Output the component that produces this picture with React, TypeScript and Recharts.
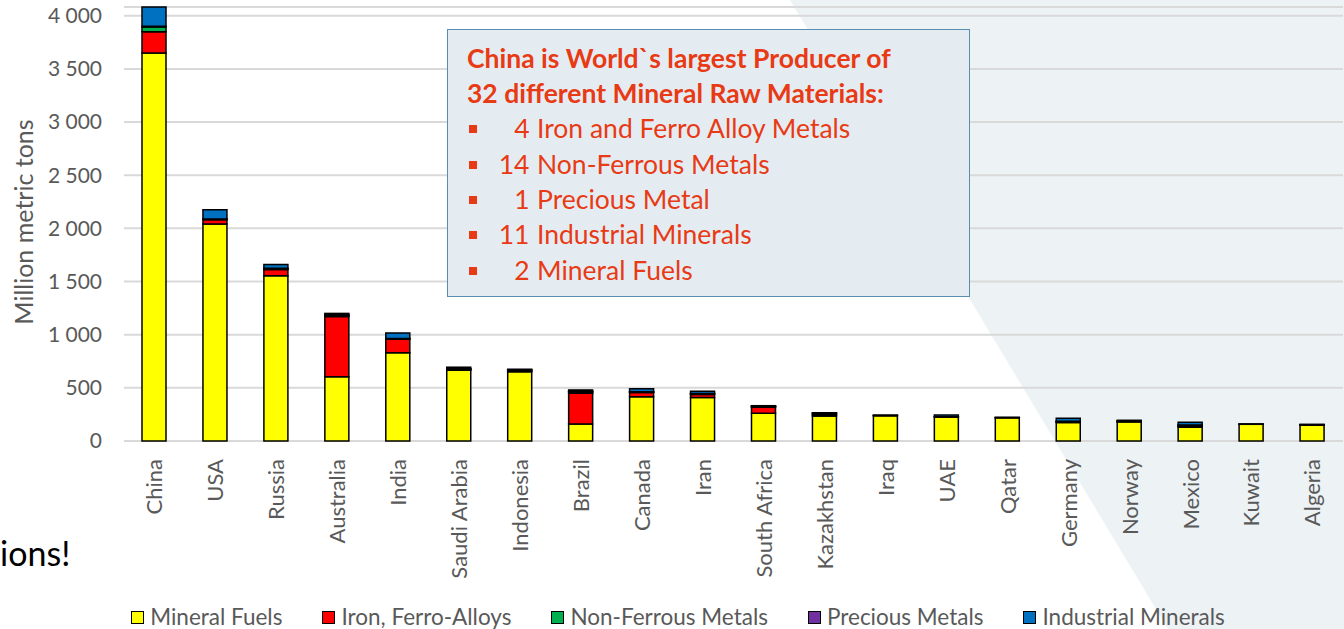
import { BarChart, Bar, XAxis, YAxis, CartesianGrid } from 'recharts';

const countries = ['China', 'USA', 'Russia', 'Australia', 'India', 'Saudi Arabia', 'Indonesia', 'Brazil', 'Canada', 'Iran', 'South Africa', 'Kazakhstan', 'Iraq', 'UAE', 'Qatar', 'Germany', 'Norway', 'Mexico', 'Kuwait', 'Algeria'];
const mineralFuels = [3650, 2040, 1555, 605, 830, 666, 652, 160, 416, 410, 260, 235, 238, 226, 218, 174, 180, 130, 157, 150];
const ironFerroAlloys = [200, 42, 58, 565, 128, 2, 3, 289, 40, 28, 57, 10, 0, 0, 0, 2, 2, 8, 0, 1];
const nonFerrousMetals = [45, 5, 8, 10, 5, 10, 12, 14, 6, 8, 8, 14, 2, 3, 2, 8, 8, 10, 1, 2];
const preciousMetals = [5, 2, 3, 8, 2, 2, 2, 3, 2, 1, 3, 1, 0, 0, 0, 1, 0, 3, 0, 0];
const industrialMinerals = [182, 86, 36, 12, 51, 14, 6, 14, 28, 21, 4, 6, 4, 15, 3, 28, 5, 25, 2, 4];
const yTicks = [0, 500, 1000, 1500, 2000, 2500, 3000, 3500, 4000];

const series = [
  { key: 'fuels', name: 'Mineral Fuels', color: '#FFFF00' },
  { key: 'iron', name: 'Iron, Ferro-Alloys', color: '#FF0000' },
  { key: 'nonFerrous', name: 'Non-Ferrous Metals', color: '#00B050' },
  { key: 'precious', name: 'Precious Metals', color: '#7030A0' },
  { key: 'industrial', name: 'Industrial Minerals', color: '#0070C0' },
];

const bullets = [
  ['4', 'Iron and Ferro Alloy Metals'],
  ['14', 'Non-Ferrous Metals'],
  ['1', 'Precious Metal'],
  ['11', 'Industrial Minerals'],
  ['2', 'Mineral Fuels'],
];

const data = countries.map((c, i) => ({
  country: c,
  fuels: mineralFuels[i],
  iron: ironFerroAlloys[i],
  nonFerrous: nonFerrousMetals[i],
  precious: preciousMetals[i],
  industrial: industrialMinerals[i],
}));

const FONT = 'Lato, "Noto Sans", sans-serif';
const GREY = '#595959';
const RED = '#E83A14';

const fmt = (v: number) => String(v).replace(/\B(?=(\d{3})+(?!\d))/g, ' ');

function CountryTick(props: any) {
  const { x, y, payload } = props;
  const ty = y + 10;
  return (
    <text x={x} y={ty} transform={`rotate(-90, ${x}, ${ty})`} textAnchor="end" dy="0.36em" fontSize={22} fill={GREY} fontFamily={FONT}>
      {payload.value}
    </text>
  );
}

function YTitle(props: any) {
  const { viewBox } = props;
  const cy = viewBox.y + viewBox.height / 2 - 2;
  return (
    <text x={24} y={cy} transform={`rotate(-90, 24, ${cy})`} textAnchor="middle" dy="0.36em" fontSize={25} fill={GREY} fontFamily={FONT}>
      Million metric tons
    </text>
  );
}

export default function App() {
  return (
    <div style={{ position: 'fixed', left: 0, top: 0, width: 1344, height: 629, background: '#fff', overflow: 'hidden', fontFamily: FONT }}>
      <div
        style={{
          position: 'absolute', inset: 0, background: '#EDF2F5',
          clipPath: 'polygon(790px 0, 1344px 0, 1344px 629px, 1168px 629px)',
        }}
      />
      <div style={{ position: 'absolute', left: 0, top: 531, fontSize: 34, lineHeight: '44px', color: '#000' }}>ions!</div>
      <div style={{ position: 'absolute', left: 0, top: 0 }}>
        <BarChart width={1344} height={629} data={data} margin={{ top: 7, right: 1, left: 0, bottom: 0 }} barSize={24}>
          <CartesianGrid vertical={false} stroke="#D9D9D9" strokeWidth={2} />
          <XAxis dataKey="country" interval={0} height={188} tickLine={false} axisLine={false} tick={<CountryTick />} />
          <YAxis
            width={124}
            domain={[0, 'dataMax']}
            ticks={yTicks}
            tickFormatter={fmt}
            tickLine={false}
            axisLine={false}
            tickSize={20}
            tick={{ fontSize: 21, fill: GREY, fontFamily: FONT }}
            label={<YTitle />}
          />
          {series.map((s) => (
            <Bar key={s.key} dataKey={s.key} name={s.name} stackId="a" fill={s.color} stroke="#000" strokeWidth={1.5} isAnimationActive={false} />
          ))}
        </BarChart>
      </div>
      <div
        style={{
          position: 'absolute', left: 447, top: 29, width: 523, height: 268, boxSizing: 'border-box',
          background: '#E4ECF2', border: '1.5px solid #5B8DB0', padding: '11px 0 0 19px', color: RED,
        }}
      >
        <div style={{ fontWeight: 700, fontSize: 26.5, lineHeight: '35.2px', whiteSpace: 'nowrap' }}>China is World`s largest Producer of</div>
        <div style={{ fontWeight: 700, fontSize: 26.5, lineHeight: '35.2px', whiteSpace: 'nowrap' }}>32 different Mineral Raw Materials:</div>
        {bullets.map(([n, t]) => (
          <div key={t} style={{ position: 'relative', fontSize: 26.5, lineHeight: '35.3px', height: 35.3 }}>
            <span style={{ position: 'absolute', left: 2, top: 14, width: 8, height: 8, background: RED }} />
            <span style={{ position: 'absolute', left: 0, width: 62.5, textAlign: 'right' }}>{n}</span>
            <span style={{ position: 'absolute', left: 70, whiteSpace: 'nowrap' }}>{t}</span>
          </div>
        ))}
      </div>
      <div
        style={{
          position: 'absolute', left: 0, width: 1356, top: 604, display: 'flex', justifyContent: 'center', gap: 40,
          fontSize: 22.5, color: GREY, lineHeight: '26px',
        }}
      >
        {series.map((s) => (
          <div key={s.key} style={{ display: 'flex', alignItems: 'center', gap: 6 }}>
            <span style={{ width: 11, height: 11, background: s.color, border: '1px solid #000' }} />
            <span>{s.name}</span>
          </div>
        ))}
      </div>
    </div>
  );
}
